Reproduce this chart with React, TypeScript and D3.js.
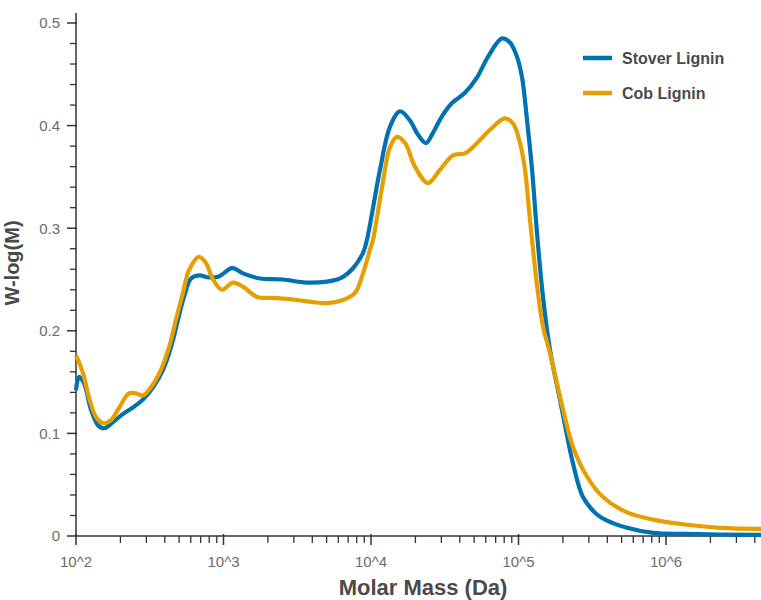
import React from "react";
import * as d3 from "d3";

// Molar-mass distributions, x as log10(M / Da), y as W-log(M)
const stoverLogM = [
  2.0, 2.02, 2.054, 2.102, 2.149, 2.19, 2.251, 2.319, 2.393, 2.454, 2.522, 2.59, 2.644, 2.692,
  2.732, 2.78, 2.834, 2.902, 2.969, 3.058, 3.132, 3.247, 3.403, 3.566, 3.702, 3.79, 3.878,
  3.946, 3.973, 4.061, 4.129, 4.197, 4.264, 4.319, 4.373, 4.42, 4.481, 4.549, 4.637, 4.719,
  4.793, 4.888, 4.942, 4.99, 5.024, 5.058, 5.092, 5.125, 5.166, 5.214, 5.281, 5.315, 5.369,
  5.437, 5.532, 5.6, 5.736, 5.912, 6.142, 6.644,
];
const stoverW = [
  0.142, 0.155, 0.149, 0.123, 0.108, 0.105, 0.111, 0.119, 0.126, 0.133, 0.145, 0.162, 0.184,
  0.211, 0.233, 0.251, 0.254, 0.252, 0.253, 0.261, 0.256, 0.251, 0.25, 0.247, 0.248, 0.251,
  0.261, 0.276, 0.289, 0.357, 0.399, 0.414, 0.405, 0.391, 0.383, 0.393, 0.409, 0.422, 0.432,
  0.447, 0.467, 0.485, 0.481, 0.467, 0.447, 0.405, 0.357, 0.296, 0.233, 0.181, 0.133, 0.108,
  0.071, 0.038, 0.021, 0.015, 0.008, 0.003, 0.002, 0.001,
];

const cobLogM = [
  2.0, 2.047, 2.088, 2.136, 2.183, 2.237, 2.292, 2.359, 2.407, 2.454, 2.508, 2.576, 2.631,
  2.678, 2.725, 2.766, 2.834, 2.881, 2.929, 2.99, 3.064, 3.132, 3.227, 3.336, 3.498, 3.607,
  3.702, 3.81, 3.892, 3.946, 3.993, 4.014, 4.075, 4.129, 4.176, 4.231, 4.298, 4.386, 4.468,
  4.556, 4.637, 4.719, 4.807, 4.908, 4.963, 5.01, 5.044, 5.078, 5.125, 5.166, 5.214, 5.302,
  5.369, 5.464, 5.573, 5.736, 5.912, 6.142, 6.366, 6.644,
];
const cobW = [
  0.176, 0.159, 0.135, 0.116, 0.11, 0.113, 0.125, 0.139, 0.139, 0.137, 0.145, 0.162, 0.184,
  0.211, 0.237, 0.259, 0.272, 0.266, 0.25, 0.24, 0.247, 0.243, 0.233, 0.232, 0.23, 0.228,
  0.227, 0.23, 0.237, 0.256, 0.279, 0.289, 0.34, 0.379, 0.389, 0.383, 0.36, 0.344, 0.357,
  0.371, 0.373, 0.383, 0.396, 0.407, 0.402, 0.383, 0.357, 0.308, 0.245, 0.204, 0.178, 0.123,
  0.087, 0.058, 0.038, 0.023, 0.016, 0.011, 0.008, 0.007,
];

const seriesNames = ["Stover Lignin", "Cob Lignin"];
const seriesColors = ["#0072B2", "#E69F00"];

const xTickValues = [1e2, 1e3, 1e4, 1e5, 1e6];
const xTickLabels = ["10^2", "10^3", "10^4", "10^5", "10^6"];
const yTickValues = [0, 0.1, 0.2, 0.3, 0.4, 0.5];
const yTickLabels = ["0", "0.1", "0.2", "0.3", "0.4", "0.5"];

const xTitle = "Molar Mass (Da)";
const yTitle = "W-log(M)";

const W = 761;
const H = 600;
const left = 76;
const right = 761;
const bottom = 536;
const xMaxLog = 6.644;

export default function App() {
  const x = d3.scaleLog().domain([1e2, Math.pow(10, xMaxLog)]).range([left, right]);
  const y = d3.scaleLinear().domain([0, 0.5]).range([bottom, 23]);

  const line = d3
    .line<[number, number]>()
    .x((d) => x(Math.pow(10, d[0])))
    .y((d) => y(d[1]))
    .curve(d3.curveCatmullRom.alpha(0.5));

  const stover: [number, number][] = stoverLogM.map((v, i) => [v, stoverW[i]]);
  const cob: [number, number][] = cobLogM.map((v, i) => [v, cobW[i]]);

  // minor ticks: 2..9 of each decade
  const xMinor: number[] = [];
  for (let e = 2; e <= 6; e++) {
    for (let k = 2; k <= 9; k++) {
      const v = k * Math.pow(10, e);
      if (v <= Math.pow(10, xMaxLog)) xMinor.push(v);
    }
  }
  const yMinor = d3.range(0, 0.5001, 0.02).filter((v) => Math.abs(v * 10 - Math.round(v * 10)) > 1e-6);

  const font = "'Liberation Sans', Arial, sans-serif";
  const axisColor = "#333";
  const tickLabelColor = "#6b6b6b";
  const titleColor = "#4a4a4a";

  return (
    <svg
      width={W}
      height={H}
      style={{ position: "absolute", left: 0, top: 0, background: "#fff" }}
      fontFamily={font}
    >
      {/* y axis */}
      <line x1={left} x2={left} y1={13} y2={bottom} stroke={axisColor} strokeWidth={1.5} />
      {yMinor.map((v) => (
        <line key={"ym" + v} x1={left - 6} x2={left} y1={y(v)} y2={y(v)} stroke={axisColor} strokeWidth={1.3} />
      ))}
      {yTickValues.map((v, i) => (
        <g key={"yt" + v}>
          <line x1={left - 9} x2={left + 1} y1={y(v)} y2={y(v)} stroke={axisColor} strokeWidth={1.5} />
          <text
            x={left - 16}
            y={y(v)}
            dy="0.36em"
            textAnchor="end"
            fontSize={15}
            fill={tickLabelColor}
          >
            {yTickLabels[i]}
          </text>
        </g>
      ))}

      {/* x axis */}
      <line x1={left} x2={right} y1={bottom} y2={bottom} stroke={axisColor} strokeWidth={1.5} />
      {xMinor.map((v) => (
        <line key={"xm" + v} x1={x(v)} x2={x(v)} y1={bottom} y2={bottom + 7} stroke={axisColor} strokeWidth={1.3} />
      ))}
      {xTickValues.map((v, i) => (
        <g key={"xt" + v}>
          <line x1={x(v)} x2={x(v)} y1={bottom - 2} y2={bottom + 9} stroke={axisColor} strokeWidth={1.5} />
          <text x={x(v)} y={567} textAnchor="middle" fontSize={15} fill={tickLabelColor}>
            {xTickLabels[i]}
          </text>
        </g>
      ))}

      {/* titles */}
      <text x={423} y={595} textAnchor="middle" fontSize={22} fontWeight="bold" fill={titleColor}>
        {xTitle}
      </text>
      <text
        transform={`translate(19, 263) rotate(-90)`}
        textAnchor="middle"
        fontSize={20}
        fontWeight="bold"
        fill={titleColor}
      >
        {yTitle}
      </text>

      {/* curves */}
      <path d={line(stover) ?? ""} fill="none" stroke={seriesColors[0]} strokeWidth={4.2} strokeLinejoin="round" />
      <path d={line(cob) ?? ""} fill="none" stroke={seriesColors[1]} strokeWidth={4.2} strokeLinejoin="round" />

      {/* legend */}
      {seriesNames.map((name, i) => (
        <g key={name} transform={`translate(583, ${58 + i * 35})`}>
          <line x1={0} x2={29} y1={0} y2={0} stroke={seriesColors[i]} strokeWidth={4.5} />
          <text x={39} y={0} dy="0.35em" fontSize={16} fontWeight="bold" fill={titleColor}>
            {name}
          </text>
        </g>
      ))}
    </svg>
  );
}
